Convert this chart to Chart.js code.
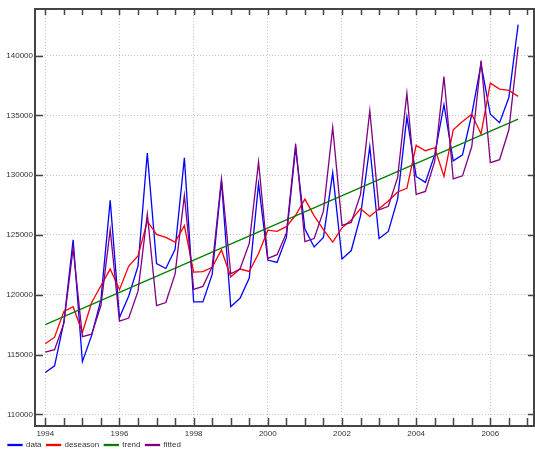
<!DOCTYPE html>
<html>
<head>
<meta charset="utf-8">
<title>data / deseason / trend / fitted</title>
<script src="https://cdn.jsdelivr.net/npm/chart.js@4.4.1/dist/chart.umd.min.js"></script>
<style>
  html, body { margin: 0; padding: 0; background: #fff; }
</style>
</head>
<body>
<canvas id="chart" width="535" height="450"></canvas>
<script>
// quarterly series, first quarter of 1994 to last quarter of 2006
const startYear = 1994;

const dataValues = [
  113500, 114050, 117700, 124600, 114400, 116600, 119600, 127900,
  118100, 119900, 122400, 131850, 122600, 122200, 123800, 131450,
  119400, 119400, 121700, 129500, 119000, 119700, 121400, 129300,
  122900, 122700, 124800, 132300, 125500, 124000, 124800, 130200,
  123000, 123700, 126600, 132400, 124700, 125300, 128000, 134900,
  129900, 129400, 131700, 135900, 131200, 131700, 135100, 139300,
  135100, 134400, 136500, 142600
];

const deseasonValues = [
  115900, 116450, 118600, 119000, 116850, 119350, 120750, 122150,
  120430, 122400, 123250, 126150, 125050, 124800, 124400, 125780,
  121900, 121940, 122300, 123750, 121500, 122150, 121950, 123450,
  125400, 125300, 125700, 126650, 128000, 126600, 125450, 124400,
  125600, 126250, 127200, 126550, 127200, 127850, 128600, 128900,
  132500, 132050, 132300, 129900, 133800, 134500, 135100, 133450,
  137700, 137200, 137100, 136600
];

const fittedValues = [
  115200, 115400, 117600, 123900, 116500, 116700, 119100, 125450,
  117800, 118050, 120300, 126750, 119100, 119350, 121750, 128300,
  120450, 120700, 122350, 129700, 121750, 122150, 124300, 131100,
  123050, 123350, 125150, 132600, 124450, 124700, 127000, 134000,
  125800, 126050, 128400, 135400, 127100, 127400, 129800, 136850,
  128400, 128650, 131150, 138250, 129700, 129950, 132400, 139600,
  131050, 131300, 133800, 140750
];

// straight trend line, read at its two ends
const trendYears = [1994, 2006.75];
const trendValues = [117500, 134700];

const seriesNames = ['data', 'deseason', 'trend', 'fitted'];
const seriesColors = ['#0000ff', '#ff0000', '#008000', '#800080'];

// axis ticks: labelled every 5000 / every 2 years, small marks every half year
const yTickValues = [110000, 115000, 120000, 125000, 130000, 135000, 140000];
const xLabelYears = [1994, 1996, 1998, 2000, 2002, 2004, 2006];
const xTickValues = [];
for (let yr = 1994; yr <= 2007; yr += 0.5) xTickValues.push(yr);

function toPoints(values) {
  return values.map((v, i) => ({ x: startYear + i / 4, y: v }));
}

// frame round the plot, with short inward ticks on all four sides
const frameTicks = {
  id: 'frameTicks',
  afterDraw(chart) {
    const { ctx, chartArea: a, scales: { x, y } } = chart;
    ctx.save();
    ctx.strokeStyle = '#444';
    ctx.lineWidth = 1.5;
    ctx.beginPath();
    x.ticks.forEach(t => {
      const px = Math.round(x.getPixelForValue(t.value)) + 0.5;
      ctx.moveTo(px, a.bottom);
      ctx.lineTo(px, a.bottom - 8);
      ctx.moveTo(px, a.top);
      ctx.lineTo(px, a.top + 6);
    });
    y.ticks.forEach(t => {
      const py = Math.round(y.getPixelForValue(t.value)) + 0.5;
      ctx.moveTo(a.left, py);
      ctx.lineTo(a.left + 8, py);
      ctx.moveTo(a.right, py);
      ctx.lineTo(a.right - 6, py);
    });
    ctx.stroke();
    ctx.lineWidth = 2;
    ctx.strokeRect(a.left, a.top, a.right - a.left, a.bottom - a.top);
    ctx.restore();
  }
};

Chart.defaults.font.family = '"Liberation Sans", Arial, sans-serif';
Chart.defaults.font.size = 8;
Chart.defaults.color = '#333';

const seriesData = [
  toPoints(dataValues),
  toPoints(deseasonValues),
  trendYears.map((yr, i) => ({ x: yr, y: trendValues[i] })),
  toPoints(fittedValues)
];

new Chart(document.getElementById('chart'), {
  type: 'line',
  data: {
    datasets: seriesNames.map((name, i) => ({
      label: name,
      data: seriesData[i],
      borderColor: seriesColors[i],
      backgroundColor: seriesColors[i],
      borderWidth: 1.3,
      pointRadius: 0,
      tension: 0,
      fill: false,
      order: seriesNames.length - i
    }))
  },
  options: {
    responsive: false,
    animation: false,
    layout: { padding: { top: 9, right: 1, bottom: 0, left: 3 } },
    plugins: {
      tooltip: { enabled: false },
      legend: {
        position: 'bottom',
        align: 'start',
        maxHeight: 14,
        labels: {
          boxWidth: 14,
          boxHeight: 1,
          padding: 5,
          color: '#333',
          font: { size: 8 },
          sort: (a, b) => a.datasetIndex - b.datasetIndex
        }
      }
    },
    scales: {
      x: {
        type: 'linear',
        min: 1993.722,
        max: 2007.178,
        afterFit(scale) { scale.height = 10; },
        afterBuildTicks(scale) { scale.ticks = xTickValues.map(v => ({ value: v })); },
        border: { display: false, dash: [1, 2] },
        grid: {
          drawTicks: false,
          color: c => (c.tick && xLabelYears.includes(c.tick.value)) ? '#c4c4c4' : 'rgba(0,0,0,0)',
          lineWidth: 1
        },
        ticks: {
          autoSkip: false,
          maxRotation: 0,
          padding: 3,
          callback: v => xLabelYears.includes(v) ? String(v) : ''
        }
      },
      y: {
        min: 109021,
        max: 143906,
        afterFit(scale) { scale.width = 32; },
        afterBuildTicks(scale) { scale.ticks = yTickValues.map(v => ({ value: v })); },
        border: { display: false, dash: [1, 2] },
        grid: {
          drawTicks: false,
          color: '#c4c4c4',
          lineWidth: 1
        },
        ticks: {
          autoSkip: false,
          padding: 2,
          callback: v => String(v)
        }
      }
    }
  },
  plugins: [frameTicks]
});
</script>
</body>
</html>
